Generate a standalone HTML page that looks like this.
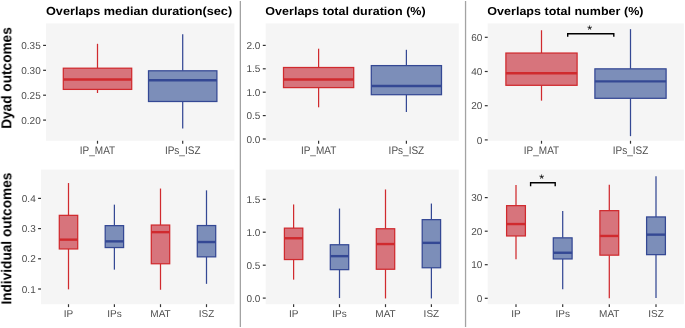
<!DOCTYPE html><html><head><meta charset="utf-8"><style>html,body{margin:0;padding:0;background:#fff;}svg{display:block;}text{font-family:"Liberation Sans",sans-serif;will-change:transform;text-rendering:geometricPrecision;}</style></head><body>
<svg width="685" height="328" viewBox="0 0 685 328">
<rect x="0" y="0" width="685" height="328" fill="#ffffff"/>
<rect x="239.7" y="1" width="1.3" height="326" fill="#A3A3A3"/>
<rect x="464.9" y="1" width="1.3" height="326" fill="#A3A3A3"/>
<rect x="46" y="23.4" width="188.40" height="117.40" fill="#F5F5F5"/>
<line x1="97.5" y1="43.8" x2="97.5" y2="68.2" stroke="rgb(208,42,46)" stroke-width="1.25"/>
<line x1="97.5" y1="89.4" x2="97.5" y2="93.0" stroke="rgb(208,42,46)" stroke-width="1.25"/>
<rect x="63.30" y="68.2" width="68.40" height="21.20" fill="rgb(215,116,124)" stroke="rgb(208,42,46)" stroke-width="1.25"/>
<line x1="63.30" y1="79.5" x2="131.70" y2="79.5" stroke="rgb(208,42,46)" stroke-width="2.4"/>
<line x1="97.5" y1="140.8" x2="97.5" y2="143.70" stroke="#333333" stroke-width="1.2"/>
<text transform="translate(97.5,153.90) scale(1,1.1)" font-size="10" fill="#4D4D4D" text-anchor="middle">IP_MAT</text>
<line x1="182.7" y1="34.2" x2="182.7" y2="70.8" stroke="rgb(52,72,148)" stroke-width="1.25"/>
<line x1="182.7" y1="101.5" x2="182.7" y2="128.6" stroke="rgb(52,72,148)" stroke-width="1.25"/>
<rect x="148.50" y="70.8" width="68.40" height="30.70" fill="rgb(124,142,185)" stroke="rgb(52,72,148)" stroke-width="1.25"/>
<line x1="148.50" y1="80.2" x2="216.90" y2="80.2" stroke="rgb(52,72,148)" stroke-width="2.4"/>
<line x1="182.7" y1="140.8" x2="182.7" y2="143.70" stroke="#333333" stroke-width="1.2"/>
<text transform="translate(182.7,153.90) scale(1,1.1)" font-size="10" fill="#4D4D4D" text-anchor="middle">IPs_ISZ</text>
<line x1="43.10" y1="45.4" x2="46" y2="45.4" stroke="#333333" stroke-width="1.2"/>
<text transform="translate(40.70,49.00) scale(1,1)" font-size="10" fill="#4D4D4D" text-anchor="end">0.35</text>
<line x1="43.10" y1="70.3" x2="46" y2="70.3" stroke="#333333" stroke-width="1.2"/>
<text transform="translate(40.70,73.90) scale(1,1)" font-size="10" fill="#4D4D4D" text-anchor="end">0.30</text>
<line x1="43.10" y1="95.2" x2="46" y2="95.2" stroke="#333333" stroke-width="1.2"/>
<text transform="translate(40.70,98.80) scale(1,1)" font-size="10" fill="#4D4D4D" text-anchor="end">0.25</text>
<line x1="43.10" y1="120.1" x2="46" y2="120.1" stroke="#333333" stroke-width="1.2"/>
<text transform="translate(40.70,123.70) scale(1,1)" font-size="10" fill="#4D4D4D" text-anchor="end">0.20</text>
<rect x="265.7" y="23.4" width="193.10" height="117.40" fill="#F5F5F5"/>
<line x1="318.6" y1="48.7" x2="318.6" y2="67.5" stroke="rgb(208,42,46)" stroke-width="1.25"/>
<line x1="318.6" y1="87.6" x2="318.6" y2="107.3" stroke="rgb(208,42,46)" stroke-width="1.25"/>
<rect x="283.50" y="67.5" width="70.20" height="20.10" fill="rgb(215,116,124)" stroke="rgb(208,42,46)" stroke-width="1.25"/>
<line x1="283.50" y1="79.5" x2="353.70" y2="79.5" stroke="rgb(208,42,46)" stroke-width="2.4"/>
<line x1="318.6" y1="140.8" x2="318.6" y2="143.70" stroke="#333333" stroke-width="1.2"/>
<text transform="translate(318.6,153.90) scale(1,1.1)" font-size="10" fill="#4D4D4D" text-anchor="middle">IP_MAT</text>
<line x1="406.4" y1="49.8" x2="406.4" y2="65.6" stroke="rgb(52,72,148)" stroke-width="1.25"/>
<line x1="406.4" y1="94.7" x2="406.4" y2="112.0" stroke="rgb(52,72,148)" stroke-width="1.25"/>
<rect x="371.30" y="65.6" width="70.20" height="29.10" fill="rgb(124,142,185)" stroke="rgb(52,72,148)" stroke-width="1.25"/>
<line x1="371.30" y1="86.0" x2="441.50" y2="86.0" stroke="rgb(52,72,148)" stroke-width="2.4"/>
<line x1="406.4" y1="140.8" x2="406.4" y2="143.70" stroke="#333333" stroke-width="1.2"/>
<text transform="translate(406.4,153.90) scale(1,1.1)" font-size="10" fill="#4D4D4D" text-anchor="middle">IPs_ISZ</text>
<line x1="262.80" y1="45.4" x2="265.7" y2="45.4" stroke="#333333" stroke-width="1.2"/>
<text transform="translate(260.40,49.00) scale(1,1)" font-size="10" fill="#4D4D4D" text-anchor="end">2.0</text>
<line x1="262.80" y1="68.8" x2="265.7" y2="68.8" stroke="#333333" stroke-width="1.2"/>
<text transform="translate(260.40,72.40) scale(1,1)" font-size="10" fill="#4D4D4D" text-anchor="end">1.5</text>
<line x1="262.80" y1="92.2" x2="265.7" y2="92.2" stroke="#333333" stroke-width="1.2"/>
<text transform="translate(260.40,95.80) scale(1,1)" font-size="10" fill="#4D4D4D" text-anchor="end">1.0</text>
<line x1="262.80" y1="115.6" x2="265.7" y2="115.6" stroke="#333333" stroke-width="1.2"/>
<text transform="translate(260.40,119.20) scale(1,1)" font-size="10" fill="#4D4D4D" text-anchor="end">0.5</text>
<line x1="262.80" y1="139.0" x2="265.7" y2="139.0" stroke="#333333" stroke-width="1.2"/>
<text transform="translate(260.40,142.60) scale(1,1)" font-size="10" fill="#4D4D4D" text-anchor="end">0.0</text>
<rect x="487.7" y="23.4" width="196.20" height="117.40" fill="#F5F5F5"/>
<line x1="541.5" y1="30.25" x2="541.5" y2="53.05" stroke="rgb(208,42,46)" stroke-width="1.25"/>
<line x1="541.5" y1="85.3" x2="541.5" y2="100.65" stroke="rgb(208,42,46)" stroke-width="1.25"/>
<rect x="505.90" y="53.05" width="71.20" height="32.25" fill="rgb(215,116,124)" stroke="rgb(208,42,46)" stroke-width="1.25"/>
<line x1="505.90" y1="73.25" x2="577.10" y2="73.25" stroke="rgb(208,42,46)" stroke-width="2.4"/>
<line x1="541.5" y1="140.8" x2="541.5" y2="143.70" stroke="#333333" stroke-width="1.2"/>
<text transform="translate(541.5,153.90) scale(1,1.1)" font-size="10" fill="#4D4D4D" text-anchor="middle">IP_MAT</text>
<line x1="630.5" y1="29.15" x2="630.5" y2="68.85" stroke="rgb(52,72,148)" stroke-width="1.25"/>
<line x1="630.5" y1="98.3" x2="630.5" y2="136.15" stroke="rgb(52,72,148)" stroke-width="1.25"/>
<rect x="594.90" y="68.85" width="71.20" height="29.45" fill="rgb(124,142,185)" stroke="rgb(52,72,148)" stroke-width="1.25"/>
<line x1="594.90" y1="81.35" x2="666.10" y2="81.35" stroke="rgb(52,72,148)" stroke-width="2.4"/>
<line x1="630.5" y1="140.8" x2="630.5" y2="143.70" stroke="#333333" stroke-width="1.2"/>
<text transform="translate(630.5,153.90) scale(1,1.1)" font-size="10" fill="#4D4D4D" text-anchor="middle">IPs_ISZ</text>
<line x1="484.80" y1="37.3" x2="487.7" y2="37.3" stroke="#333333" stroke-width="1.2"/>
<text transform="translate(482.40,40.90) scale(1,1)" font-size="10" fill="#4D4D4D" text-anchor="end">60</text>
<line x1="484.80" y1="71.5" x2="487.7" y2="71.5" stroke="#333333" stroke-width="1.2"/>
<text transform="translate(482.40,75.10) scale(1,1)" font-size="10" fill="#4D4D4D" text-anchor="end">40</text>
<line x1="484.80" y1="105.7" x2="487.7" y2="105.7" stroke="#333333" stroke-width="1.2"/>
<text transform="translate(482.40,109.30) scale(1,1)" font-size="10" fill="#4D4D4D" text-anchor="end">20</text>
<line x1="484.80" y1="139.9" x2="487.7" y2="139.9" stroke="#333333" stroke-width="1.2"/>
<text transform="translate(482.40,143.50) scale(1,1)" font-size="10" fill="#4D4D4D" text-anchor="end">0</text>
<rect x="41" y="169.6" width="193.40" height="134.60" fill="#F5F5F5"/>
<line x1="68.5" y1="183.05" x2="68.5" y2="215.35" stroke="rgb(208,42,46)" stroke-width="1.25"/>
<line x1="68.5" y1="248.95" x2="68.5" y2="289.35" stroke="rgb(208,42,46)" stroke-width="1.25"/>
<rect x="59.30" y="215.35" width="18.40" height="33.60" fill="rgb(215,116,124)" stroke="rgb(208,42,46)" stroke-width="1.25"/>
<line x1="59.30" y1="239.65" x2="77.70" y2="239.65" stroke="rgb(208,42,46)" stroke-width="2.4"/>
<line x1="68.5" y1="304.2" x2="68.5" y2="307.10" stroke="#333333" stroke-width="1.2"/>
<text transform="translate(68.5,317.30) scale(1,1)" font-size="10" fill="#4D4D4D" text-anchor="middle">IP</text>
<line x1="114.4" y1="204.65" x2="114.4" y2="225.65" stroke="rgb(52,72,148)" stroke-width="1.25"/>
<line x1="114.4" y1="247.55" x2="114.4" y2="269.65" stroke="rgb(52,72,148)" stroke-width="1.25"/>
<rect x="105.20" y="225.65" width="18.40" height="21.90" fill="rgb(124,142,185)" stroke="rgb(52,72,148)" stroke-width="1.25"/>
<line x1="105.20" y1="241.35" x2="123.60" y2="241.35" stroke="rgb(52,72,148)" stroke-width="2.4"/>
<line x1="114.4" y1="304.2" x2="114.4" y2="307.10" stroke="#333333" stroke-width="1.2"/>
<text transform="translate(114.4,317.30) scale(1,1)" font-size="10" fill="#4D4D4D" text-anchor="middle">IPs</text>
<line x1="160.5" y1="188.55" x2="160.5" y2="225.05" stroke="rgb(208,42,46)" stroke-width="1.25"/>
<line x1="160.5" y1="263.75" x2="160.5" y2="289.75" stroke="rgb(208,42,46)" stroke-width="1.25"/>
<rect x="151.30" y="225.05" width="18.40" height="38.70" fill="rgb(215,116,124)" stroke="rgb(208,42,46)" stroke-width="1.25"/>
<line x1="151.30" y1="232.15" x2="169.70" y2="232.15" stroke="rgb(208,42,46)" stroke-width="2.4"/>
<line x1="160.5" y1="304.2" x2="160.5" y2="307.10" stroke="#333333" stroke-width="1.2"/>
<text transform="translate(160.5,317.30) scale(1,1)" font-size="10" fill="#4D4D4D" text-anchor="middle">MAT</text>
<line x1="206.5" y1="190.35" x2="206.5" y2="225.55" stroke="rgb(52,72,148)" stroke-width="1.25"/>
<line x1="206.5" y1="256.85" x2="206.5" y2="283.85" stroke="rgb(52,72,148)" stroke-width="1.25"/>
<rect x="197.30" y="225.55" width="18.40" height="31.30" fill="rgb(124,142,185)" stroke="rgb(52,72,148)" stroke-width="1.25"/>
<line x1="197.30" y1="242.05" x2="215.70" y2="242.05" stroke="rgb(52,72,148)" stroke-width="2.4"/>
<line x1="206.5" y1="304.2" x2="206.5" y2="307.10" stroke="#333333" stroke-width="1.2"/>
<text transform="translate(206.5,317.30) scale(1,1)" font-size="10" fill="#4D4D4D" text-anchor="middle">ISZ</text>
<line x1="38.10" y1="198.4" x2="41" y2="198.4" stroke="#333333" stroke-width="1.2"/>
<text transform="translate(35.70,202.00) scale(1,1)" font-size="10" fill="#4D4D4D" text-anchor="end">0.4</text>
<line x1="38.10" y1="228.6" x2="41" y2="228.6" stroke="#333333" stroke-width="1.2"/>
<text transform="translate(35.70,232.20) scale(1,1)" font-size="10" fill="#4D4D4D" text-anchor="end">0.3</text>
<line x1="38.10" y1="258.8" x2="41" y2="258.8" stroke="#333333" stroke-width="1.2"/>
<text transform="translate(35.70,262.40) scale(1,1)" font-size="10" fill="#4D4D4D" text-anchor="end">0.2</text>
<line x1="38.10" y1="289.0" x2="41" y2="289.0" stroke="#333333" stroke-width="1.2"/>
<text transform="translate(35.70,292.60) scale(1,1)" font-size="10" fill="#4D4D4D" text-anchor="end">0.1</text>
<rect x="265.7" y="169.6" width="193.10" height="134.60" fill="#F5F5F5"/>
<line x1="293.6" y1="204.45" x2="293.6" y2="228.15" stroke="rgb(208,42,46)" stroke-width="1.25"/>
<line x1="293.6" y1="259.55" x2="293.6" y2="279.65" stroke="rgb(208,42,46)" stroke-width="1.25"/>
<rect x="284.40" y="228.15" width="18.40" height="31.40" fill="rgb(215,116,124)" stroke="rgb(208,42,46)" stroke-width="1.25"/>
<line x1="284.40" y1="238.25" x2="302.80" y2="238.25" stroke="rgb(208,42,46)" stroke-width="2.4"/>
<line x1="293.6" y1="304.2" x2="293.6" y2="307.10" stroke="#333333" stroke-width="1.2"/>
<text transform="translate(293.6,317.30) scale(1,1)" font-size="10" fill="#4D4D4D" text-anchor="middle">IP</text>
<line x1="339.5" y1="208.55" x2="339.5" y2="244.75" stroke="rgb(52,72,148)" stroke-width="1.25"/>
<line x1="339.5" y1="269.65" x2="339.5" y2="298.05" stroke="rgb(52,72,148)" stroke-width="1.25"/>
<rect x="330.30" y="244.75" width="18.40" height="24.90" fill="rgb(124,142,185)" stroke="rgb(52,72,148)" stroke-width="1.25"/>
<line x1="330.30" y1="256.15" x2="348.70" y2="256.15" stroke="rgb(52,72,148)" stroke-width="2.4"/>
<line x1="339.5" y1="304.2" x2="339.5" y2="307.10" stroke="#333333" stroke-width="1.2"/>
<text transform="translate(339.5,317.30) scale(1,1)" font-size="10" fill="#4D4D4D" text-anchor="middle">IPs</text>
<line x1="385.5" y1="189.45" x2="385.5" y2="228.75" stroke="rgb(208,42,46)" stroke-width="1.25"/>
<line x1="385.5" y1="269.25" x2="385.5" y2="298.45" stroke="rgb(208,42,46)" stroke-width="1.25"/>
<rect x="376.30" y="228.75" width="18.40" height="40.50" fill="rgb(215,116,124)" stroke="rgb(208,42,46)" stroke-width="1.25"/>
<line x1="376.30" y1="244.05" x2="394.70" y2="244.05" stroke="rgb(208,42,46)" stroke-width="2.4"/>
<line x1="385.5" y1="304.2" x2="385.5" y2="307.10" stroke="#333333" stroke-width="1.2"/>
<text transform="translate(385.5,317.30) scale(1,1)" font-size="10" fill="#4D4D4D" text-anchor="middle">MAT</text>
<line x1="431.4" y1="203.55" x2="431.4" y2="219.65" stroke="rgb(52,72,148)" stroke-width="1.25"/>
<line x1="431.4" y1="267.75" x2="431.4" y2="298.45" stroke="rgb(52,72,148)" stroke-width="1.25"/>
<rect x="422.20" y="219.65" width="18.40" height="48.10" fill="rgb(124,142,185)" stroke="rgb(52,72,148)" stroke-width="1.25"/>
<line x1="422.20" y1="242.85" x2="440.60" y2="242.85" stroke="rgb(52,72,148)" stroke-width="2.4"/>
<line x1="431.4" y1="304.2" x2="431.4" y2="307.10" stroke="#333333" stroke-width="1.2"/>
<text transform="translate(431.4,317.30) scale(1,1)" font-size="10" fill="#4D4D4D" text-anchor="middle">ISZ</text>
<line x1="262.80" y1="199.3" x2="265.7" y2="199.3" stroke="#333333" stroke-width="1.2"/>
<text transform="translate(260.40,202.90) scale(1,1)" font-size="10" fill="#4D4D4D" text-anchor="end">1.5</text>
<line x1="262.80" y1="232.2" x2="265.7" y2="232.2" stroke="#333333" stroke-width="1.2"/>
<text transform="translate(260.40,235.80) scale(1,1)" font-size="10" fill="#4D4D4D" text-anchor="end">1.0</text>
<line x1="262.80" y1="265.2" x2="265.7" y2="265.2" stroke="#333333" stroke-width="1.2"/>
<text transform="translate(260.40,268.80) scale(1,1)" font-size="10" fill="#4D4D4D" text-anchor="end">0.5</text>
<line x1="262.80" y1="298.1" x2="265.7" y2="298.1" stroke="#333333" stroke-width="1.2"/>
<text transform="translate(260.40,301.70) scale(1,1)" font-size="10" fill="#4D4D4D" text-anchor="end">0.0</text>
<rect x="487.7" y="169.6" width="196.20" height="134.60" fill="#F5F5F5"/>
<line x1="516.0" y1="184.95" x2="516.0" y2="205.65" stroke="rgb(208,42,46)" stroke-width="1.25"/>
<line x1="516.0" y1="235.95" x2="516.0" y2="259.15" stroke="rgb(208,42,46)" stroke-width="1.25"/>
<rect x="506.60" y="205.65" width="18.80" height="30.30" fill="rgb(215,116,124)" stroke="rgb(208,42,46)" stroke-width="1.25"/>
<line x1="506.60" y1="224.05" x2="525.40" y2="224.05" stroke="rgb(208,42,46)" stroke-width="2.4"/>
<line x1="516.0" y1="304.2" x2="516.0" y2="307.10" stroke="#333333" stroke-width="1.2"/>
<text transform="translate(516.0,317.30) scale(1,1)" font-size="10" fill="#4D4D4D" text-anchor="middle">IP</text>
<line x1="562.7" y1="210.95" x2="562.7" y2="237.85" stroke="rgb(52,72,148)" stroke-width="1.25"/>
<line x1="562.7" y1="258.95" x2="562.7" y2="289.35" stroke="rgb(52,72,148)" stroke-width="1.25"/>
<rect x="553.30" y="237.85" width="18.80" height="21.10" fill="rgb(124,142,185)" stroke="rgb(52,72,148)" stroke-width="1.25"/>
<line x1="553.30" y1="252.75" x2="572.10" y2="252.75" stroke="rgb(52,72,148)" stroke-width="2.4"/>
<line x1="562.7" y1="304.2" x2="562.7" y2="307.10" stroke="#333333" stroke-width="1.2"/>
<text transform="translate(562.7,317.30) scale(1,1)" font-size="10" fill="#4D4D4D" text-anchor="middle">IPs</text>
<line x1="609.3" y1="184.85" x2="609.3" y2="210.65" stroke="rgb(208,42,46)" stroke-width="1.25"/>
<line x1="609.3" y1="255.15" x2="609.3" y2="298.25" stroke="rgb(208,42,46)" stroke-width="1.25"/>
<rect x="599.90" y="210.65" width="18.80" height="44.50" fill="rgb(215,116,124)" stroke="rgb(208,42,46)" stroke-width="1.25"/>
<line x1="599.90" y1="235.95" x2="618.70" y2="235.95" stroke="rgb(208,42,46)" stroke-width="2.4"/>
<line x1="609.3" y1="304.2" x2="609.3" y2="307.10" stroke="#333333" stroke-width="1.2"/>
<text transform="translate(609.3,317.30) scale(1,1)" font-size="10" fill="#4D4D4D" text-anchor="middle">MAT</text>
<line x1="656.0" y1="176.35" x2="656.0" y2="216.95" stroke="rgb(52,72,148)" stroke-width="1.25"/>
<line x1="656.0" y1="254.65" x2="656.0" y2="298.05" stroke="rgb(52,72,148)" stroke-width="1.25"/>
<rect x="646.60" y="216.95" width="18.80" height="37.70" fill="rgb(124,142,185)" stroke="rgb(52,72,148)" stroke-width="1.25"/>
<line x1="646.60" y1="234.65" x2="665.40" y2="234.65" stroke="rgb(52,72,148)" stroke-width="2.4"/>
<line x1="656.0" y1="304.2" x2="656.0" y2="307.10" stroke="#333333" stroke-width="1.2"/>
<text transform="translate(656.0,317.30) scale(1,1)" font-size="10" fill="#4D4D4D" text-anchor="middle">ISZ</text>
<line x1="484.80" y1="197.6" x2="487.7" y2="197.6" stroke="#333333" stroke-width="1.2"/>
<text transform="translate(482.40,201.20) scale(1,1)" font-size="10" fill="#4D4D4D" text-anchor="end">30</text>
<line x1="484.80" y1="231.2" x2="487.7" y2="231.2" stroke="#333333" stroke-width="1.2"/>
<text transform="translate(482.40,234.80) scale(1,1)" font-size="10" fill="#4D4D4D" text-anchor="end">20</text>
<line x1="484.80" y1="264.7" x2="487.7" y2="264.7" stroke="#333333" stroke-width="1.2"/>
<text transform="translate(482.40,268.30) scale(1,1)" font-size="10" fill="#4D4D4D" text-anchor="end">10</text>
<line x1="484.80" y1="298.3" x2="487.7" y2="298.3" stroke="#333333" stroke-width="1.2"/>
<text transform="translate(482.40,301.90) scale(1,1)" font-size="10" fill="#4D4D4D" text-anchor="end">0</text>
<text transform="translate(46.00,14.8) scale(1,0.92)" font-size="12.7" font-weight="bold" fill="#000">Overlaps median duration(sec)</text>
<text transform="translate(265.30,14.8) scale(1,0.92)" font-size="12.55" font-weight="bold" fill="#000">Overlaps total duration (%)</text>
<text transform="translate(487.30,14.8) scale(1,0.92)" font-size="12.55" font-weight="bold" fill="#000">Overlaps total number (%)</text>
<text transform="translate(11.3,78) scale(1,0.962) rotate(-90)" font-size="14.2" font-weight="bold" fill="#000" text-anchor="middle">Dyad outcomes</text>
<text transform="translate(11.3,238.6) scale(1,0.962) rotate(-90)" font-size="14.2" font-weight="bold" fill="#000" text-anchor="middle">Individual outcomes</text>
<path d="M567.7 36.8 L567.7 33.7 L613.8 33.7 L613.8 36.8" fill="none" stroke="#000" stroke-width="1.4"/>
<text transform="translate(589.8,34.0) scale(1,1)" font-size="12.5" fill="#000" text-anchor="middle">*</text>
<path d="M530.6 186.2 L530.6 182.8 L555.2 182.8 L555.2 186.2" fill="none" stroke="#000" stroke-width="1.4"/>
<text transform="translate(541.7,182.8) scale(1,1)" font-size="12.5" fill="#000" text-anchor="middle">*</text>
</svg></body></html>
